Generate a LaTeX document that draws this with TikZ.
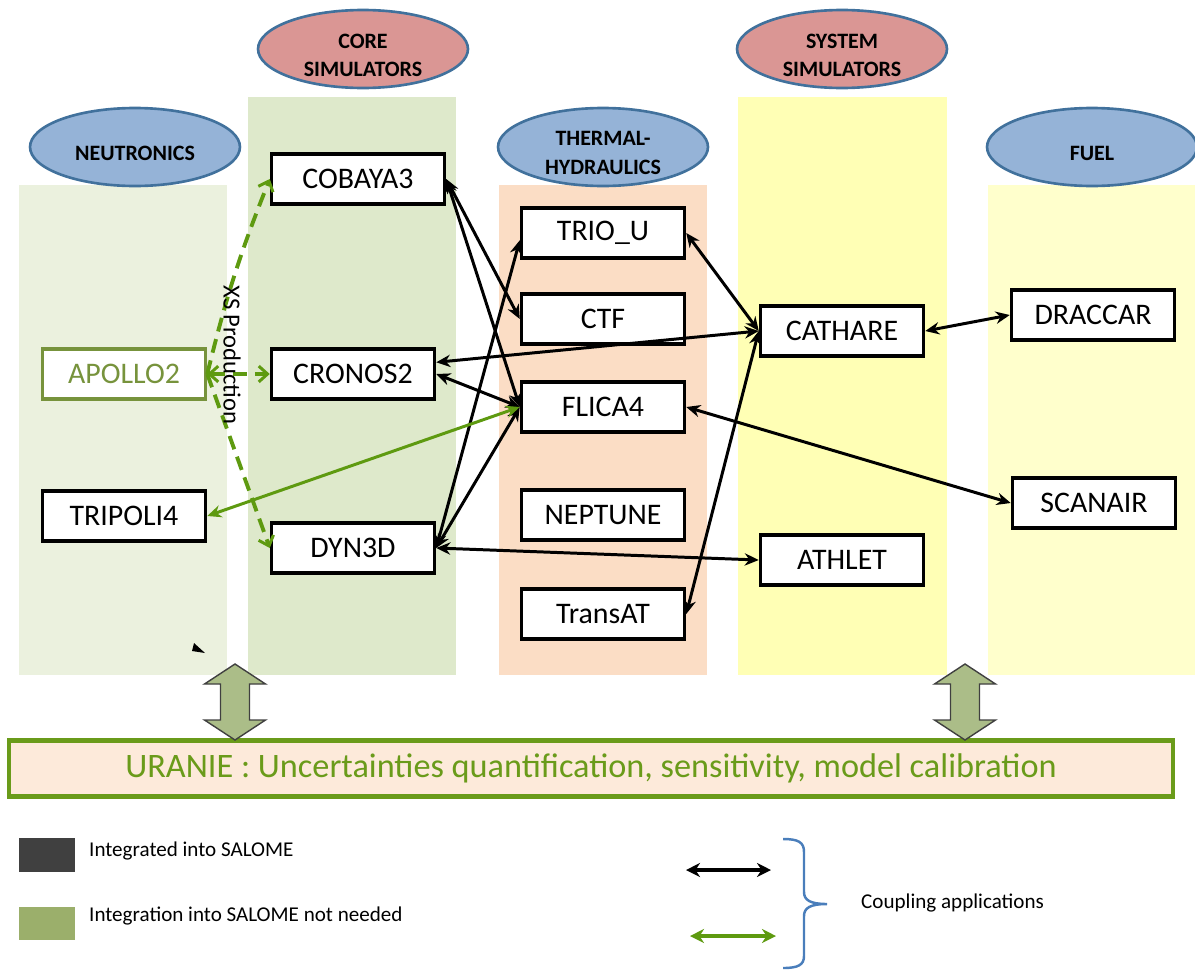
\documentclass[tikz,border=0pt]{standalone}
\usepackage{fontspec}
\setmainfont{Carlito}
\usetikzlibrary{arrows.meta,shapes.geometric,decorations.pathreplacing,calc}
\definecolor{nbg}{HTML}{EBF1DE}
\definecolor{cbg}{HTML}{DEE9CB}
\definecolor{tbg}{HTML}{FBDDC5}
\definecolor{sbg}{HTML}{FFFFB5}
\definecolor{fbg}{HTML}{FFFFCC}
\definecolor{hblue}{HTML}{95B3D7}
\definecolor{hred}{HTML}{DA9694}
\definecolor{hline}{HTML}{41719C}
\definecolor{olive}{HTML}{77933C}
\definecolor{ugreen}{HTML}{6A9B1A}
\definecolor{agreen}{HTML}{5E9A10}
\definecolor{ufill}{HTML}{FDEADA}
\definecolor{barrow}{HTML}{ABBD88}
\definecolor{dgray}{HTML}{404040}
\definecolor{lgreen}{HTML}{9BAF6B}
\definecolor{brblue}{HTML}{4A7EBB}
\tikzset{
  hdr/.style={ellipse, draw=hline, line width=1.5pt, minimum width=4.2cm, minimum height=1.56cm, inner sep=0pt},
  hdrtext/.style={font=\fontsize{12.5}{16}\selectfont\bfseries, align=center, text=black, yshift=-0.12cm},
  code/.style={draw, line width=2pt, fill=white, minimum width=3.26cm, minimum height=1.0cm, inner sep=0pt, font=\fontsize{17}{20}\selectfont},
  conn/.style={draw, line width=1.7pt, {Stealth[length=8pt,width=7pt]}-{Stealth[length=8pt,width=7pt]}},
  gconn/.style={conn, draw=agreen},
  dconn/.style={draw=agreen, line width=2.2pt, dash pattern=on 8pt off 4.5pt},
  barb/.tip={Straight Barb[length=5pt,width=9pt,line width=1.7pt]},
  legtext/.style={font=\fontsize{12}{14}\selectfont, anchor=west}
}
\begin{document}
\begin{tikzpicture}[x=0.02cm,y=-0.02cm]
\useasboundingbox (0,0) rectangle (1195,970);
% column backgrounds
\fill[nbg] (19,185) rectangle (227,675);
\fill[cbg] (248,97) rectangle (456,675);
\fill[tbg] (499,185) rectangle (707,675);
\fill[sbg] (738,97) rectangle (947,675);
\fill[fbg] (988,185) rectangle (1195,675);
% headers
\node[hdr, fill=hblue, label={[hdrtext]center:NEUTRONICS}] (hneu) at (135,147) {};
\node[hdr, fill=hred, label={[hdrtext]center:{CORE\\SIMULATORS}}] (hcore) at (363,49) {};
\node[hdr, fill=hblue, label={[hdrtext]center:{THERMAL-\\HYDRAULICS}}] (hth) at (603,147) {};
\node[hdr, fill=hred, label={[hdrtext]center:{SYSTEM\\SIMULATORS}}] (hsys) at (842,49) {};
\node[hdr, fill=hblue, label={[hdrtext]center:FUEL}] (hfuel) at (1092,147) {};
% code boxes
\node[code, minimum width=3.46cm] (cobaya) at (358,179) {COBAYA3};
\node[code] (cronos) at (353,374) {CRONOS2};
\node[code, draw=olive, text=olive] (apollo) at (124,374) {APOLLO2};
\node[code] (tripoli) at (124,516) {TRIPOLI4};
\node[code] (dyn) at (353,548) {DYN3D};
\node[code] (trio) at (603,233) {TRIO\_U};
\node[code] (ctf) at (603,319) {CTF};
\node[code] (flica) at (603,407) {FLICA4};
\node[code] (nept) at (603,515) {NEPTUNE};
\node[code] (transat) at (603,614) {TransAT};
\node[code] (cathare) at (842,331) {CATHARE};
\node[code] (athlet) at (842,560) {ATHLET};
\node[code] (draccar) at (1093,315) {DRACCAR};
\node[code] (scanair) at (1094,503) {SCANAIR};
% black couplings
\draw[conn] (cobaya.east) -- (ctf.west);
\draw[conn] (cobaya.east) -- (flica.west);
\draw[conn] (trio.185) -- (dyn.east);
\draw[conn] (flica.west) -- (dyn.east);
\draw[conn] (flica.west) -- (cronos.east);
\draw[conn] (cathare.west) -- (cronos.8);
\draw[conn] (trio.east) -- (cathare.west);
\draw[conn] (transat.east) -- (cathare.west);
\draw[conn] (dyn.east) -- (athlet.west);
\draw[conn] (flica.east) -- (scanair.west);
\draw[conn] (cathare.east) -- (draccar.west);
% green couplings
\draw[gconn] (tripoli.east) -- (flica.west);
\draw[dconn, -{barb}] (apollo.east) to[bend left=4] (cobaya.west);
\draw[dconn, {barb}-{barb}] (apollo.east) -- (cronos.west);
\draw[dconn, -{barb}] (apollo.east) -- (dyn.west);
\node[rotate=-90, font=\fontsize{14}{16}\selectfont] (xs) at (232,355) {XS Production};
% stray tip
\fill (194,643) -- (205,653) -- (192,651) -- cycle;
% URANIE
\node[draw=ugreen, line width=2.3pt, fill=ufill, minimum width=23.28cm, minimum height=1.12cm, inner sep=0pt, text=ugreen, font=\fontsize{19.5}{22}\selectfont] (uranie) at (591,768.5) {URANIE : Uncertainties quantification, sensitivity, model calibration};
% block arrows
\filldraw[fill=barrow, draw=dgray, line width=0.8pt] (235,664) -- (265.5,684) -- (249.5,684) -- (249.5,720) -- (265.5,720) -- (235,740) -- (204.5,720) -- (220.5,720) -- (220.5,684) -- (204.5,684) -- cycle;
\filldraw[fill=barrow, draw=dgray, line width=0.8pt] (965,664) -- (995.5,684) -- (979.5,684) -- (979.5,720) -- (995.5,720) -- (965,740) -- (934.5,720) -- (950.5,720) -- (950.5,684) -- (934.5,684) -- cycle;
% legend
\fill[dgray] (19,838) rectangle (75,872);
\fill[lgreen] (19,907) rectangle (75,940);
\node[legtext] (l1) at (83,851) {Integrated into SALOME};
\node[legtext] (l2) at (83,916) {Integration into SALOME not needed};
\coordinate (lka) at (686,870);
\coordinate (lkb) at (771,870);
\coordinate (lga) at (690,936);
\coordinate (lgb) at (776,936);
\draw[line width=2.6pt, {Stealth[length=8pt,width=8pt]}-{Stealth[length=8pt,width=8pt]}] (lka) -- (lkb);
\draw[line width=2.2pt, draw=agreen, {Stealth[length=8pt,width=8pt]}-{Stealth[length=8pt,width=8pt]}] (lga) -- (lgb);
% brace
\draw[brblue, line width=1.4pt] (783,839) .. controls (798,839) and (804,842) .. (804,852) -- (804,892) .. controls (804,900) and (810,904) .. (827,904) .. controls (810,904) and (804,908) .. (804,916) -- (804,956) .. controls (804,965) and (798,968) .. (783,968);
\node[legtext] (l3) at (855,903) {Coupling applications};
\end{tikzpicture}
\end{document}
